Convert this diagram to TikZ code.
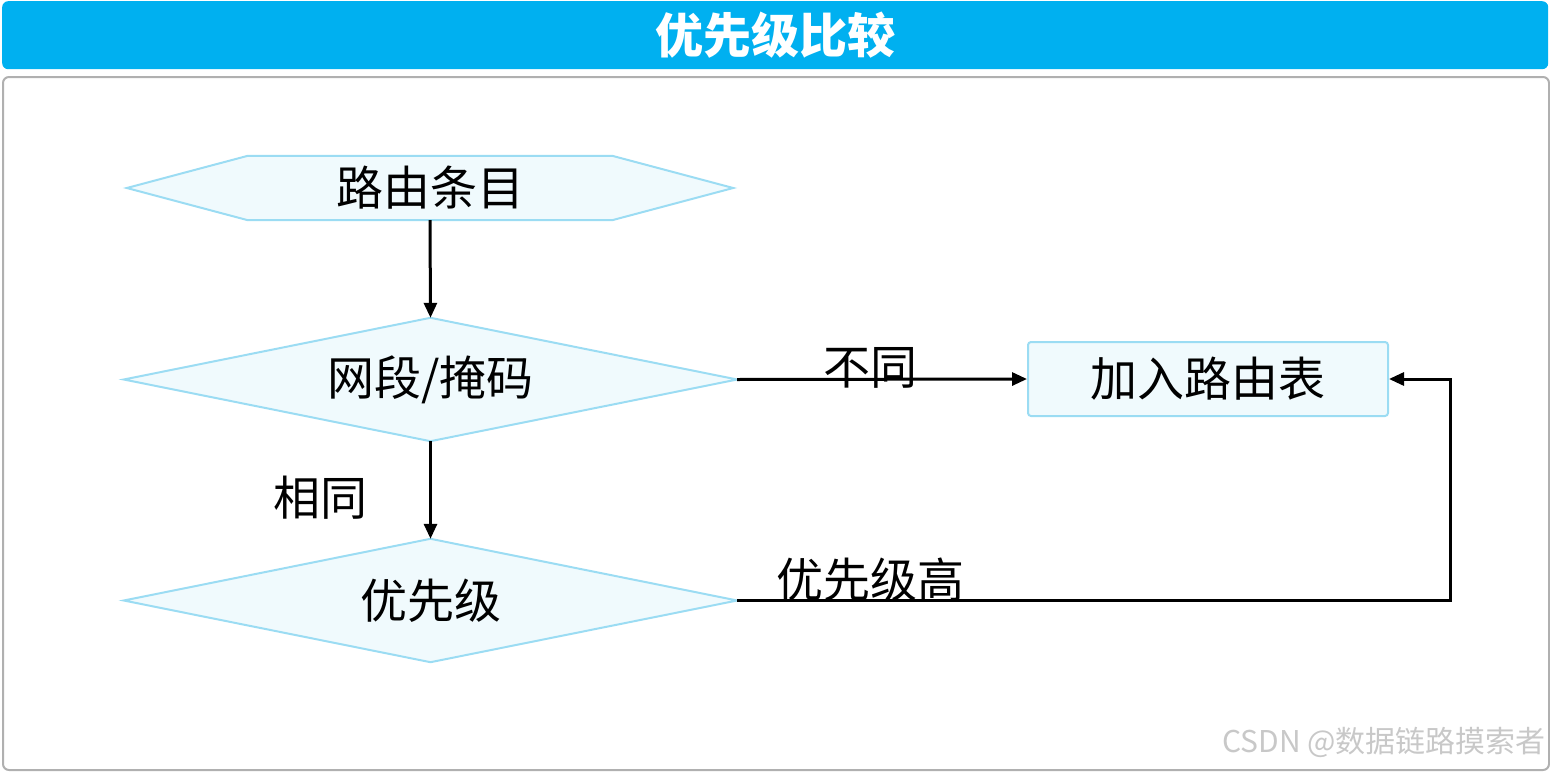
\documentclass[tikz,border=0pt]{standalone}
\usepackage{fontspec}
\setmainfont{Noto Sans CJK SC}
\usetikzlibrary{arrows.meta,backgrounds}
\definecolor{titleblue}{HTML}{00B0F0}
\definecolor{shapefill}{HTML}{F0FAFD}
\definecolor{shapeline}{HTML}{9BDCF3}
\definecolor{framegray}{HTML}{B0B0B0}
\definecolor{wmgray}{HTML}{C8C8C8}
\tikzset{
  shapebox/.style={fill=shapefill,draw=shapeline,line width=2pt},
  bigtext/.style={font=\fontsize{47}{47}\selectfont},
  dia/.style={shape=rectangle,inner sep=0pt,minimum width=613pt,minimum height=123pt,bigtext},
  rectbox/.style={shape=rectangle,shapebox,rounded corners=3pt,inner sep=0pt,minimum width=360pt,minimum height=74pt,bigtext},
  hexcore/.style={shape=rectangle,inner sep=0pt,minimum width=364pt,minimum height=64pt,bigtext},
  conn/.style={line width=3pt,-{Triangle[length=15pt,width=13pt]}},
  lbl/.style={bigtext,inner sep=0pt},
}
\begin{document}
\begin{tikzpicture}[x=1pt,y=-1pt]
\useasboundingbox (0,0) rectangle (1550,771);
% title bar
\node[fill=titleblue,rounded corners=6pt,minimum width=1546pt,minimum height=68pt,inner sep=0pt,anchor=north west,text=white,font=\fontsize{48}{48}\selectfont\bfseries] (title) at (2,1) {优先级比较};
% frame
\node[draw=framegray,line width=2pt,rounded corners=6pt,minimum width=1546pt,minimum height=693pt,inner sep=0pt,anchor=north west] (frame) at (2,76) {};
% hexagon
\node[hexcore] (entry) at (430,188) {路由条目};
% diamonds
\node[dia] (mask) at (430.5,379.5) {网段/掩码};
\node[dia] (prio) at (430.5,600.5) {优先级};
\begin{scope}[on background layer]
\draw[shapebox] (entry.north west) -- (entry.north east) -- ([xshift=121pt]entry.east) -- (entry.south east) -- (entry.south west) -- ([xshift=-121pt]entry.west) -- cycle;
\draw[shapebox] (mask.north) -- (mask.east) -- (mask.south) -- (mask.west) -- cycle;
\draw[shapebox] (prio.north) -- (prio.east) -- (prio.south) -- (prio.west) -- cycle;
\end{scope}
% rect
\node[rectbox] (add) at (1208,379) {加入路由表};
% bend coordinates
\coordinate (c1) at (1450,600.5);
\coordinate (c2) at (1450,379);
% connectors
\draw[conn] (entry.south) -- (mask.north);
\draw[conn] (mask.south) -- (prio.north);
\draw[conn] (mask.east) -- (add.west);
\draw[conn] (prio.east) -- (c1) -- (c2) -- (add.east);
% labels
\node[lbl] (l1) at (870,368) {不同};
\node[lbl] (l2) at (320,498) {相同};
\node[lbl] (l3) at (870,580) {优先级高};
% watermark
\node[lbl,anchor=east,text=wmgray,font=\fontsize{30}{30}\selectfont] (wm) at (1546,742) {CSDN @数据链路摸索者};
\end{tikzpicture}
\end{document}
